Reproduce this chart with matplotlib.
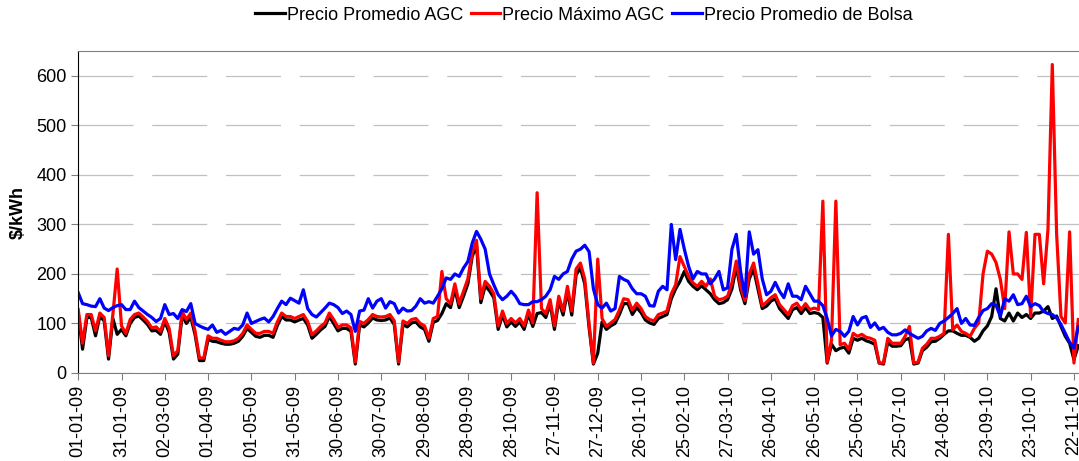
import matplotlib
matplotlib.use("Agg")
import matplotlib.pyplot as plt
import pandas as pd

plt.rcParams['font.family'] = ['Liberation Sans', 'DejaVu Sans']

# one reading every 3 days starting 01-01-09
start = "2009-01-01"
n_points = 232

precio_promedio_agc = [
    120, 48, 112, 112, 75, 115, 105, 28, 110, 78, 88, 75, 100, 112, 115, 107, 98, 85, 86, 78, 104,
    82, 28, 38, 116, 100, 113, 77, 25, 25, 68, 64, 63, 60, 58, 58, 60, 64, 74, 90, 82, 74,
    72, 76, 76, 72, 96, 114, 107, 107, 103, 107, 110, 97, 70, 78, 87, 94, 114, 100, 85, 90, 90,
    84, 18, 97, 93, 101, 111, 107, 106, 107, 111, 98, 18, 98, 93, 101, 103, 93, 88,
    64, 102, 106, 120, 140, 132, 170, 132, 155, 180, 235, 258, 142, 176, 166, 152, 88, 117, 93,
    103, 94, 103, 88, 119, 94, 120, 122, 112, 140, 88, 146, 117, 165, 117, 198, 212, 180,
    92, 18, 40, 103, 88, 95, 100, 118, 140, 140, 118, 132, 122, 107, 101, 98, 110, 114, 118, 150,
    170, 185, 205, 185, 175, 168, 176, 168, 160, 148, 140, 142, 148, 170, 215, 168, 140, 190,
    210, 170, 130,
    135, 145, 150, 130, 120, 110, 128, 132, 120, 132, 120, 122, 120, 112, 20, 58, 45, 50, 52, 40,
    70, 66, 70, 65, 62, 58, 20, 18, 62, 54, 54, 55, 67, 70, 18, 20, 45, 52, 63,
    64, 70, 78, 85, 85, 80, 76, 76, 72, 64, 70, 85, 95, 114, 170, 110, 105, 121, 105, 121, 112,
    118, 110, 121, 121, 125, 134, 110, 115, 94, 74, 60, 27, 55,
]

precio_maximo_agc = [
    128, 60, 118, 118, 85, 121, 112, 35, 118, 210, 95, 80, 108, 118, 121, 113, 104, 91, 93, 84, 110,
    90, 35, 45, 124, 108, 121, 84, 30, 30, 75, 70, 70, 66, 63, 63, 65, 70, 80, 97, 88, 80,
    80, 84, 84, 80, 103, 121, 114, 114, 110, 114, 118, 104, 77, 85, 94, 101, 121, 108, 92, 97, 97,
    91, 22, 104, 100, 108, 118, 114, 113, 114, 118, 105, 22, 105, 100, 108, 110, 100, 95,
    70, 110, 114, 205, 150, 140, 180, 140, 165, 190, 243, 268, 150, 185, 175, 160, 95, 125, 100,
    110, 101, 110, 95, 127, 101, 364, 130, 120, 148, 95, 155, 125, 175, 125, 210, 222, 190,
    99, 20, 230, 110, 94, 101, 108, 127, 150, 148, 127, 141, 130, 114, 108, 105, 118, 121, 125, 160,
    178, 235, 215, 195, 182, 175, 185, 175, 190, 155, 148, 150, 155, 182, 226, 175, 146, 200,
    222, 180, 136,
    143, 152, 158, 138, 128, 118, 136, 141, 128, 140, 128, 131, 128, 347, 22, 66, 347, 57, 60, 48,
    80, 74, 78, 72, 70, 66, 20, 20, 70, 60, 60, 60, 74, 94, 20, 22, 50, 58, 70,
    70, 74, 80, 280, 87, 97, 84, 80, 74, 90, 101, 200, 246, 240, 223, 189, 130, 285, 200, 200, 189,
    284, 114, 280, 280, 180, 290, 623, 280, 114, 101, 285, 20, 108,
]

precio_bolsa = [
    162, 140, 138, 135, 134, 150, 131, 126, 132, 136, 138, 128, 128, 145, 132, 125, 118, 112, 104,
    110, 138, 118, 120, 110, 128, 124, 140, 100, 95, 91, 88, 97, 82, 86, 78, 84, 90, 88, 97, 121,
    100, 104,
    108, 111, 103, 114, 130, 145, 138, 151, 146, 141, 168, 130, 118, 113, 122, 131, 141, 138, 132,
    120, 125, 118, 84, 125, 127, 150, 131, 145, 150, 131, 144, 140, 121, 131, 125, 126, 135, 150, 141,
    144, 141, 155, 170, 192, 189, 200, 195, 212, 225, 262, 286, 270, 250, 200, 178, 158, 148, 155,
    165, 155, 140, 138, 138, 144, 144, 148, 155, 168, 195, 189, 200, 205, 230, 246, 250, 258,
    245, 170, 138, 131, 141, 125, 130, 195, 189, 185, 170, 160, 160, 155, 136, 135, 165, 175, 168,
    300, 229, 290, 250, 215, 190, 205, 200, 200, 180, 190, 205, 168, 172, 250, 280, 205, 155, 285,
    240, 249, 190,
    158, 165, 183, 165, 152, 180, 155, 155, 148, 175, 160, 145, 145, 136, 110, 75, 88, 84, 74, 84,
    114, 97, 111, 114, 92, 101, 88, 92, 82, 77, 77, 80, 87, 80, 75, 70, 74, 85, 90,
    86, 100, 105, 112, 120, 130, 100, 110, 97, 96, 112, 126, 130, 140, 137, 114, 150, 145, 158, 138,
    140, 155, 134, 140, 136, 124, 120, 118, 111, 98, 80, 62, 50, 94,
]

dates = pd.date_range(start, periods=n_points, freq="3D")
tick_dates = pd.date_range(start, periods=24, freq="30D")
tick_labels = [d.strftime("%d-%m-%y") for d in tick_dates]

fig = plt.figure(figsize=(10.79, 4.61), dpi=100)
ax = fig.add_axes([0.0725, 0.191, 0.9275, 0.698])

ax.plot(dates, precio_promedio_agc, color="black", lw=2.3, label="Precio Promedio AGC")
ax.plot(dates, precio_maximo_agc, color="#FF0000", lw=2.3, label="Precio Máximo AGC")
ax.plot(dates, precio_bolsa, color="#0000FF", lw=2.3, label="Precio Promedio de Bolsa")

ax.set_ylim(0, 650)
ax.set_yticks(range(0, 700, 100))
ax.set_xlim(pd.Timestamp(start), pd.Timestamp(start) + pd.Timedelta(days=693.5))
ax.set_xticks(tick_dates)
ax.set_xticklabels(tick_labels, rotation=90)

ax.yaxis.grid(True, color="#C0C0C0", lw=0.9, linestyle=(0, (44, 15)))
ax.set_axisbelow(True)
ax.tick_params(axis="both", labelsize=13, length=5, color="#808080", direction="out", pad=3.5)
ax.spines["left"].set_color("black")
for side in ["top", "bottom"]:
    ax.spines[side].set_color("#808080")
ax.spines["right"].set_visible(False)

ax.set_ylabel("$/kWh", fontsize=13, fontweight="bold", labelpad=7)

fig.legend(loc="center", bbox_to_anchor=(0.541, 0.967), ncol=3, frameon=False,
           fontsize=13, handlelength=1.65, handletextpad=0.12, columnspacing=0.4)

fig.savefig("out.png", dpi=100)
